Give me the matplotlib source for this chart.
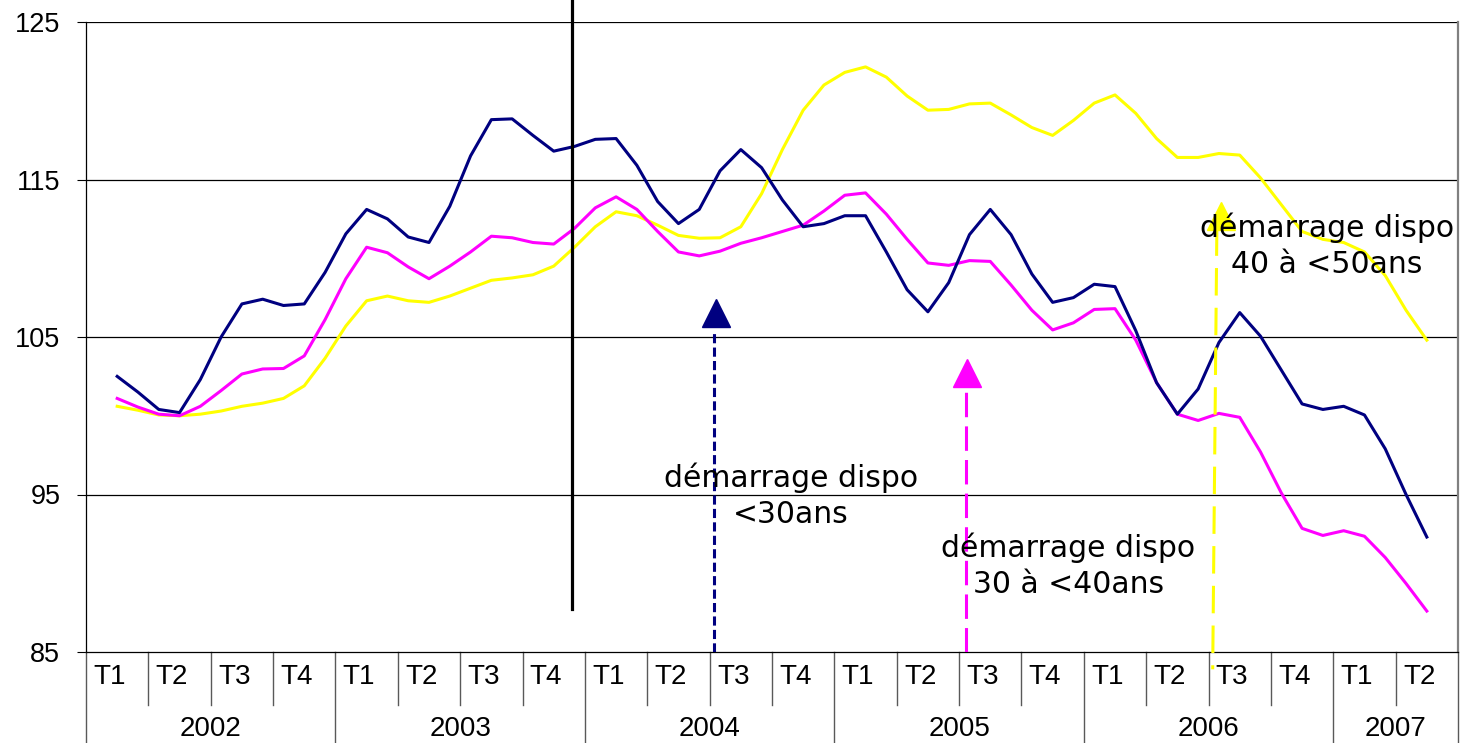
import numpy as np
import matplotlib
matplotlib.use("Agg")
import matplotlib.pyplot as plt
from matplotlib import font_manager as fm
import matplotlib.transforms as mtransforms

# monthly index: Feb 2002 (1) .. May 2007 (64)
months = np.arange(1, 65)

navy_vals = [102.5, 101.5, 100.4, 100.2, 102.3, 105.0, 107.1, 107.4, 107.0, 107.1,
             109.1, 111.55, 113.1, 112.5, 111.35, 111.0, 113.3, 116.5, 118.8, 118.85,
             117.8, 116.8, 117.1, 117.55, 117.6, 115.9, 113.6, 112.2, 113.1, 115.55,
             116.9, 115.75, 113.7, 112.0, 112.2, 112.7, 112.7, 110.4, 108.0, 106.6,
             108.45, 111.5, 113.1, 111.5, 109.0, 107.2, 107.5, 108.35, 108.2, 105.4,
             102.1, 100.1, 101.7, 104.65, 106.55, 105.05, 102.9, 100.75, 100.4, 100.6,
             100.05, 97.9, 95.0, 92.3]

magenta_vals = [101.1, 100.55, 100.1, 100.0, 100.6, 101.6, 102.65, 102.97, 103.0, 103.8,
                106.1, 108.7, 110.7, 110.35, 109.45, 108.7, 109.5, 110.4, 111.4, 111.3,
                111.0, 110.9, 111.9, 113.2, 113.9, 113.1, 111.7, 110.4, 110.15, 110.45,
                110.95, 111.3, 111.7, 112.1, 113.0, 114.0, 114.15, 112.8, 111.2, 109.7,
                109.55, 109.85, 109.8, 108.3, 106.7, 105.45, 105.9, 106.75, 106.8, 104.8,
                102.1, 100.1, 99.7, 100.15, 99.9, 97.7, 95.1, 92.85, 92.4, 92.7,
                92.35, 91.0, 89.35, 87.6]

yellow_vals = [100.6, 100.35, 100.05, 100.0, 100.1, 100.3, 100.6, 100.8, 101.1, 101.9,
               103.65, 105.7, 107.3, 107.6, 107.3, 107.2, 107.6, 108.1, 108.6, 108.75,
               108.95, 109.5, 110.7, 112.0, 112.95, 112.7, 112.1, 111.45, 111.27, 111.3,
               112.0, 114.1, 116.9, 119.4, 121.0, 121.8, 122.15, 121.5, 120.3, 119.4,
               119.45, 119.8, 119.85, 119.1, 118.3, 117.8, 118.75, 119.85, 120.37, 119.2,
               117.6, 116.4, 116.4, 116.65, 116.55, 115.1, 113.4, 111.7, 111.2, 111.0,
               110.4, 108.9, 106.7, 104.8]

years = ["2002", "2003", "2004", "2005", "2006", "2007"]
quarters_per_year = [4, 4, 4, 4, 4, 2]
quarter_labels = ["T1", "T2", "T3", "T4"]
y_ticks = [85, 95, 105, 115, 125]

# start of each measure (month position), annotation texts
start_navy = 30.3
start_magenta = 42.4
start_yellow = 54.6
break_month = 23.4
notes = ["démarrage dispo\n<30ans", "démarrage dispo\n30 à <40ans", "démarrage dispo\n40 à <50ans"]

NAVY = "#000080"
MAGENTA = "#FF00FF"
YELLOW = "#FFFF00"

names = {f.name for f in fm.fontManager.ttflist}
narrow = "Liberation Sans Narrow" if "Liberation Sans Narrow" in names else "Liberation Sans"
cat_size = 24 if narrow == "Liberation Sans Narrow" else 20

plt.rcParams["font.family"] = ["Liberation Sans", "DejaVu Sans"]

fig = plt.figure(figsize=(14.77, 7.43), dpi=100)
ax = fig.add_axes([86 / 1477, 91 / 743, 1372 / 1477, 630 / 743])

x = months + 0.5
ax.plot(x, navy_vals, color=NAVY, lw=2.2, zorder=4)
ax.plot(x, magenta_vals, color=MAGENTA, lw=2.2, zorder=3)
ax.plot(x, yellow_vals, color=YELLOW, lw=2.2, zorder=2)

n_months = sum(quarters_per_year) * 3
ax.set_xlim(0, n_months)
ax.set_ylim(85, 125)
ax.set_yticks(y_ticks)
ax.tick_params(axis="y", direction="out", length=6.5, width=0.8, pad=12, labelsize=19.5)
ax.set_xticks([])
for yv in y_ticks[1:]:
    ax.axhline(yv, color="black", lw=0.9, zorder=1)

ax.spines["top"].set_visible(False)
ax.spines["right"].set_color("#808080")
ax.spines["right"].set_linewidth(1.6)
ax.spines["left"].set_linewidth(0.9)
ax.spines["bottom"].set_linewidth(0.9)

# category axis: quarters and years
trans = mtransforms.blended_transform_factory(ax.transData, ax.transAxes)
q = 0
for yr, nq in zip(years, quarters_per_year):
    start = q * 3
    ax.plot([start, start], [0, -0.2], transform=trans, color="0.35", lw=1.0, clip_on=False)
    for j in range(nq):
        pos = (q + j) * 3
        if j > 0:
            ax.plot([pos, pos], [0, -0.084], transform=trans, color="0.35", lw=1.0, clip_on=False)
        ax.text(pos + 0.35, -0.04, quarter_labels[j], transform=trans, ha="left", va="center",
                fontsize=cat_size, family=narrow)
    q += nq
    ax.text((start + q * 3) / 2, -0.122, yr, transform=trans, ha="center", va="center",
            fontsize=cat_size, family=narrow)
ax.plot([n_months, n_months], [0, -0.2], transform=trans, color="0.35", lw=1.0, clip_on=False)

# break line
ax.plot([break_month, break_month], [87.7, 126.5], color="black", lw=2.3, clip_on=False, zorder=5)

# arrows marking the start of each measure
ax.plot([start_navy - 0.1, start_navy - 0.1], [85, 105.4], color=NAVY, lw=2.2,
        dashes=(3, 1.4), zorder=5)
ax.plot(start_navy, 106.5, marker="^", color=NAVY, ms=20, zorder=6)

ax.plot([start_magenta - 0.05, start_magenta - 0.05], [85, 101.6], color=MAGENTA, lw=2.2,
        dashes=(8, 3), zorder=5)
ax.plot(start_magenta, 102.7, marker="^", color=MAGENTA, ms=20, zorder=6)

ax.plot([start_yellow - 0.2, start_yellow - 0.4], [111.9, 83.9], color=YELLOW, lw=2.2,
        dashes=(9, 4), zorder=5, clip_on=False)
ax.plot(start_yellow, 112.7, marker="^", color=YELLOW, ms=20, zorder=6)

text_pos = [(33.9, 94.9), (47.25, 90.5), (59.7, 110.8)]
for txt, (tx, ty) in zip(notes, text_pos):
    ax.text(tx, ty, txt, ha="center", va="center", multialignment="center",
            fontsize=21.5, family="DejaVu Sans", linespacing=1.3, zorder=7)

fig.savefig("out.png", dpi=100)
